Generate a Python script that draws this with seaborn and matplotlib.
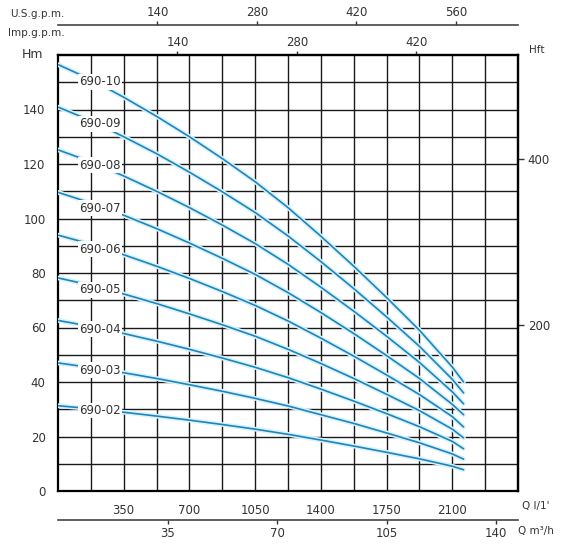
import numpy as np
import pandas as pd
import matplotlib
matplotlib.use("Agg")
import matplotlib.pyplot as plt
import matplotlib.patheffects as pe
import seaborn as sns

# flow in l/min, head in m
flow = [0, 175, 350, 525, 700, 875, 1050, 1225, 1400, 1575, 1750, 1925, 2100, 2160]
h_690_10 = [156.5, 151, 144.5, 137.5, 130, 122, 113.5, 104, 93.5, 82.5, 71, 59, 45.5, 40]
h_690_09 = [140.9, 135.9, 130, 123.8, 117, 109.8, 102.2, 93.6, 84.2, 74.3, 63.9, 53.1, 41, 36]
h_690_08 = [125.2, 120.8, 115.6, 110, 104, 97.6, 90.8, 83.2, 74.8, 66, 56.8, 47.2, 36.4, 32]
h_690_07 = [109.6, 105.7, 101.2, 96.3, 91, 85.4, 79.5, 72.8, 65.5, 57.8, 49.7, 41.3, 31.8, 28]
h_690_06 = [93.9, 90.6, 86.7, 82.5, 78, 73.2, 68.1, 62.4, 56.1, 49.5, 42.6, 35.4, 27.3, 23.5]
h_690_05 = [78.2, 75.5, 72.3, 68.8, 65, 61, 56.8, 52, 46.8, 41.3, 35.5, 29.5, 22.7, 19.5]
h_690_04 = [62.6, 60.4, 57.8, 55, 52, 48.8, 45.4, 41.6, 37.4, 33, 28.4, 23.6, 18.2, 15.5]
h_690_03 = [47, 45.3, 43.4, 41.3, 39, 36.6, 34, 31.2, 28, 24.8, 21.3, 17.7, 13.6, 11.7]
h_690_02 = [31.3, 30.2, 28.9, 27.5, 26, 24.4, 22.7, 20.8, 18.7, 16.5, 14.2, 11.8, 9.1, 7.8]

models = ["690-10", "690-09", "690-08", "690-07", "690-06", "690-05", "690-04", "690-03", "690-02"]
heads = [h_690_10, h_690_09, h_690_08, h_690_07, h_690_06, h_690_05, h_690_04, h_690_03, h_690_02]
# where each model name sits (flow, head)
label_q = [222] * 9
label_h = [150.1, 134.7, 119.6, 103.8, 88.8, 73.8, 59.4, 44.4, 29.5]

x_ticks = [350, 700, 1050, 1400, 1750, 2100]
y_ticks = [0, 20, 40, 60, 80, 100, 120, 140]
imp_ticks = [140, 280, 420]
us_ticks = [140, 280, 420, 560]
m3h_ticks = [35, 70, 105, 140]
hft_ticks = [200, 400]

df = pd.DataFrame({
    "Q": np.tile(flow, len(models)),
    "H": np.concatenate(heads),
    "model": np.repeat(models, len(flow)),
})

sns.set_style("white")
plt.rcParams['font.family'] = ['DejaVu Sans']
txt = "#333333"

fig = plt.figure(figsize=(5.69, 5.46), dpi=100)
ax = fig.add_axes([58 / 569, 55 / 546, 460 / 569, 436 / 546])

sns.lineplot(data=df, x="Q", y="H", units="model", estimator=None, color="#2184b8",
             linewidth=1.2, ax=ax, zorder=3,
             path_effects=[pe.Stroke(linewidth=3.4, foreground="#d6f3ff"), pe.Normal()])

for name, q, h in zip(models, label_q, label_h):
    ax.text(q, h, name, ha="center", va="center", fontsize=8.5, color=txt, zorder=5,
            bbox=dict(boxstyle="square,pad=0.1", fc="white", ec="none"))

ax.set_xlim(0, 2450)
ax.set_ylim(0, 160)
ax.set_xticks(x_ticks)
ax.set_xticks(np.arange(175, 2450, 350), minor=True)
ax.set_yticks(y_ticks)
ax.set_yticks(np.arange(10, 160, 20), minor=True)
ax.grid(True, which="both", color="#1a1a1a", linewidth=1.0)
ax.tick_params(which="both", length=0, colors=txt, labelsize=8.5)
ax.tick_params(axis="x", pad=9)
ax.tick_params(axis="y", pad=9)
ax.set_xlabel("")
ax.set_ylabel("")
for s in ax.spines.values():
    s.set_color("black")
    s.set_linewidth(1.6)

# top: Imp gpm on the frame
imp = ax.secondary_xaxis("top", functions=(lambda q: q / 4.546, lambda g: g * 4.546))
imp.set_xticks(imp_ticks)
imp.tick_params(length=3, width=1, colors=txt, labelsize=8.5, pad=1)
imp.spines["top"].set_linewidth(1.6)

# top: US gpm on its own line
usg = ax.secondary_xaxis(1 + 30 / 436, functions=(lambda q: q / 3.785, lambda g: g * 3.785))
usg.set_xticks(us_ticks)
usg.tick_params(length=3, width=1, colors=txt, labelsize=8.5, pad=1)
usg.spines["top"].set_linewidth(1.2)
usg.spines["top"].set_color("#444444")

# bottom: m3/h
m3 = ax.secondary_xaxis(-29 / 436, functions=(lambda q: q * 0.06, lambda v: v / 0.06))
m3.set_xticks(m3h_ticks)
m3.tick_params(length=3, width=1, colors=txt, labelsize=8.5, pad=2)
m3.spines["bottom"].set_linewidth(1.2)
m3.spines["bottom"].set_color("#444444")

# right: feet
ft = ax.secondary_yaxis("right", functions=(lambda m: m / 0.3048, lambda f: f * 0.3048))
ft.set_yticks(hft_ticks)
ft.tick_params(length=4, width=1, colors=txt, labelsize=8.5, pad=3)
ft.spines["right"].set_linewidth(1.6)

fig.text(10 / 569, 1 - 14 / 546, "U.S.g.p.m.", fontsize=7.5, color=txt, va="center", ha="left")
fig.text(8 / 569, 1 - 33 / 546, "Imp.g.p.m.", fontsize=7.5, color=txt, va="center", ha="left")
fig.text(22 / 569, 1 - 54 / 546, "Hm", fontsize=9, color=txt, va="center", ha="left")
fig.text(529 / 569, 1 - 50 / 546, "Hft", fontsize=7.5, color=txt, va="center", ha="left")
fig.text(522 / 569, 1 - 506 / 546, "Q l/1'", fontsize=7.5, color=txt, va="center", ha="left")
fig.text(518 / 569, 1 - 531 / 546, "Q m\u00b3/h", fontsize=7.5, color=txt, va="center", ha="left")

fig.savefig("out.png", dpi=100, facecolor="white")
